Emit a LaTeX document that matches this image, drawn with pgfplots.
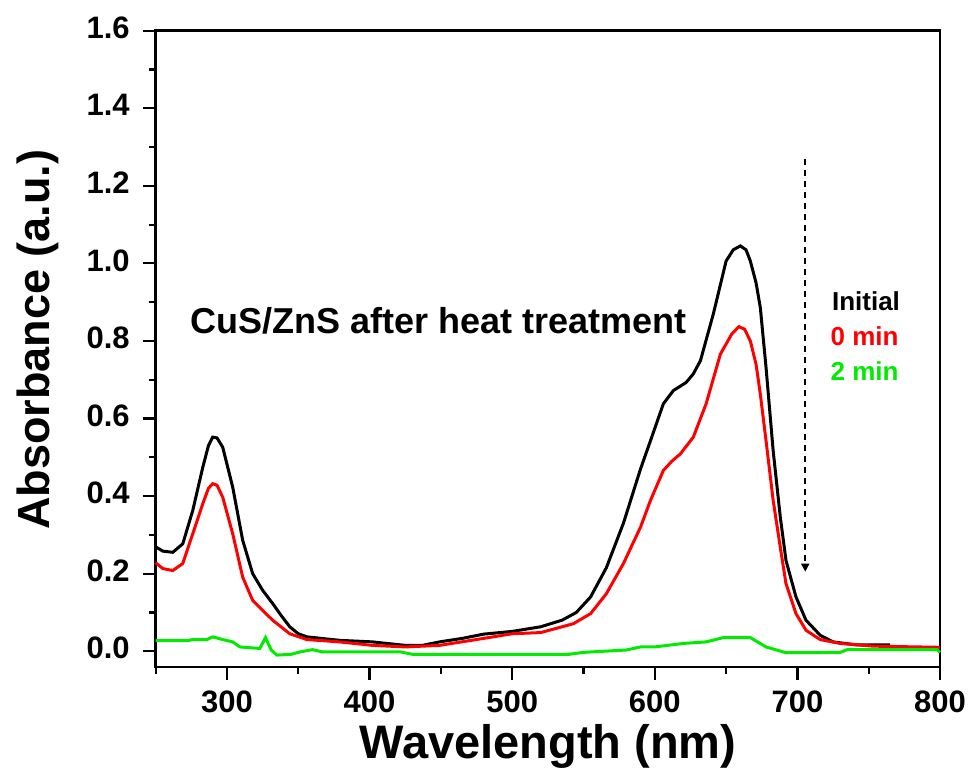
\documentclass[border=0pt]{standalone}
\usepackage{fontspec}
\setmainfont{Liberation Sans}
\usepackage{pgfplots}
\pgfplotsset{compat=1.18}
\usetikzlibrary{arrows.meta}
\definecolor{lime}{RGB}{0,235,0}
\begin{document}
\begin{tikzpicture}
\useasboundingbox (-77.85pt,-52.65pt) rectangle (406.65pt,333.35pt);
\begin{axis}[
  at={(0,0)}, anchor=south west,
  scale only axis, width=392.15pt, height=318pt,
  xmin=250, xmax=800, ymin=-0.04, ymax=1.6,
  xtick={300,400,...,800}, minor xtick={250,350,...,750},
  ytick={0,0.2,...,1.6}, minor ytick={0.1,0.3,...,1.5},
  xtick pos=left, ytick pos=left,
  tick align=outside,
  major tick length=6.5pt, minor tick length=3.5pt,
  every tick/.style={black, line width=1.1pt},
  axis line style={line width=1.2pt},
  /pgf/number format/assume math mode=true,
  yticklabel style={/pgf/number format/fixed, /pgf/number format/fixed zerofill, /pgf/number format/precision=1, xshift=-3pt, yshift=1.5pt},
  xticklabel style={yshift=-2pt},
  ticklabel style={font=\bfseries\fontsize{15.5}{15.5}\selectfont},
  xlabel={Wavelength (nm)}, ylabel={Absorbance (a.u.)},
  xlabel style={font=\bfseries\fontsize{23.5}{23.5}\selectfont, at={(axis description cs:0.5,-0.125)}, anchor=center},
  ylabel style={font=\bfseries\fontsize{22.5}{22.5}\selectfont, at={(axis description cs:-0.1507,0.514)}, anchor=center},
  clip=false,
]
\addplot[black, line width=1.5pt] coordinates {
(250,0.269)(255,0.258)(262,0.255)(269,0.277)(276,0.363)(283,0.474)(287,0.530)(290,0.552)(293,0.550)(297,0.526)
(304,0.423)(311,0.286)(318,0.200)(325,0.157)(332,0.123)(338,0.092)(344,0.063)(350,0.045)(356,0.037)(379,0.028)
(402,0.024)(425,0.015)(437,0.015)(449,0.024)(465,0.033)(480,0.044)(500,0.051)(520,0.063)
(535,0.080)(545,0.100)(555,0.140)(566,0.215)(578,0.330)(590,0.470)(597,0.543)(606,0.638)
(613,0.672)(622,0.693)(627,0.715)(632,0.749)(641,0.869)(646,0.945)(650,1.006)(655,1.035)(660,1.045)(664,1.035)
(667,1.006)(671,0.950)(674,0.886)(678,0.732)(683,0.517)(688,0.346)(692,0.234)(699,0.140)(706,0.080)
(716,0.041)(725,0.024)(742,0.016)(765,0.016)};
\addplot[red, line width=1.5pt] coordinates {
(250,0.228)(255,0.213)(262,0.208)(269,0.226)(276,0.303)(283,0.380)(287,0.420)(290,0.432)(293,0.428)(297,0.397)
(304,0.303)(311,0.191)(318,0.131)(325,0.105)(332,0.080)(344,0.045)(356,0.030)(379,0.024)(402,0.015)
(425,0.011)(449,0.015)(480,0.033)(500,0.045)(520,0.048)(543,0.071)(555,0.097)(566,0.148)
(578,0.226)(590,0.320)(597,0.389)(606,0.466)(612,0.490)(618,0.509)(627,0.552)(636,0.638)(646,0.766)
(654,0.818)(659,0.837)(663,0.830)(667,0.800)(671,0.740)(674,0.663)(678,0.543)(683,0.389)(688,0.268)
(692,0.174)(699,0.097)(706,0.054)(716,0.030)(730,0.020)(753,0.013)(800,0.010)};
\addplot[lime, line width=1.5pt] coordinates {
(250,0.027)(272,0.027)(276,0.030)(286,0.030)(290,0.037)(297,0.030)(304,0.024)(309,0.011)
(323,0.007)(327,0.035)(331,0.003)(335,-0.010)(345,-0.008)(351,-0.002)(360,0.004)(367,-0.002)
(422,-0.002)(430,-0.008)(540,-0.008)(550,-0.003)(580,0.003)(590,0.011)(600,0.011)(620,0.020)
(636,0.024)(648,0.035)(667,0.035)(678,0.011)(692,-0.004)(730,-0.003)(735,0.004)(798,0.004)(800,-0.003)};
\draw[black, line width=0.8pt, dash pattern=on 3pt off 2.5pt, -{Triangle[length=4pt,width=4pt]}] (axis cs:705.5,1.27) -- (axis cs:705.5,0.205);
\node[anchor=base west, inner sep=0pt, font=\bfseries\fontsize{18}{18}\selectfont] at (axis cs:274,0.82) {CuS/ZnS after heat treatment};
\node[anchor=base west, inner sep=0pt, font=\bfseries\fontsize{13}{13}\selectfont] at (axis cs:724,0.878) {Initial};
\node[anchor=base west, inner sep=0pt, text=red, font=\bfseries\fontsize{13}{13}\selectfont] at (axis cs:723,0.788) {0 min};
\node[anchor=base west, inner sep=0pt, text=lime, font=\bfseries\fontsize{13}{13}\selectfont] at (axis cs:723,0.698) {2 min};
\end{axis}
\end{tikzpicture}
\end{document}
